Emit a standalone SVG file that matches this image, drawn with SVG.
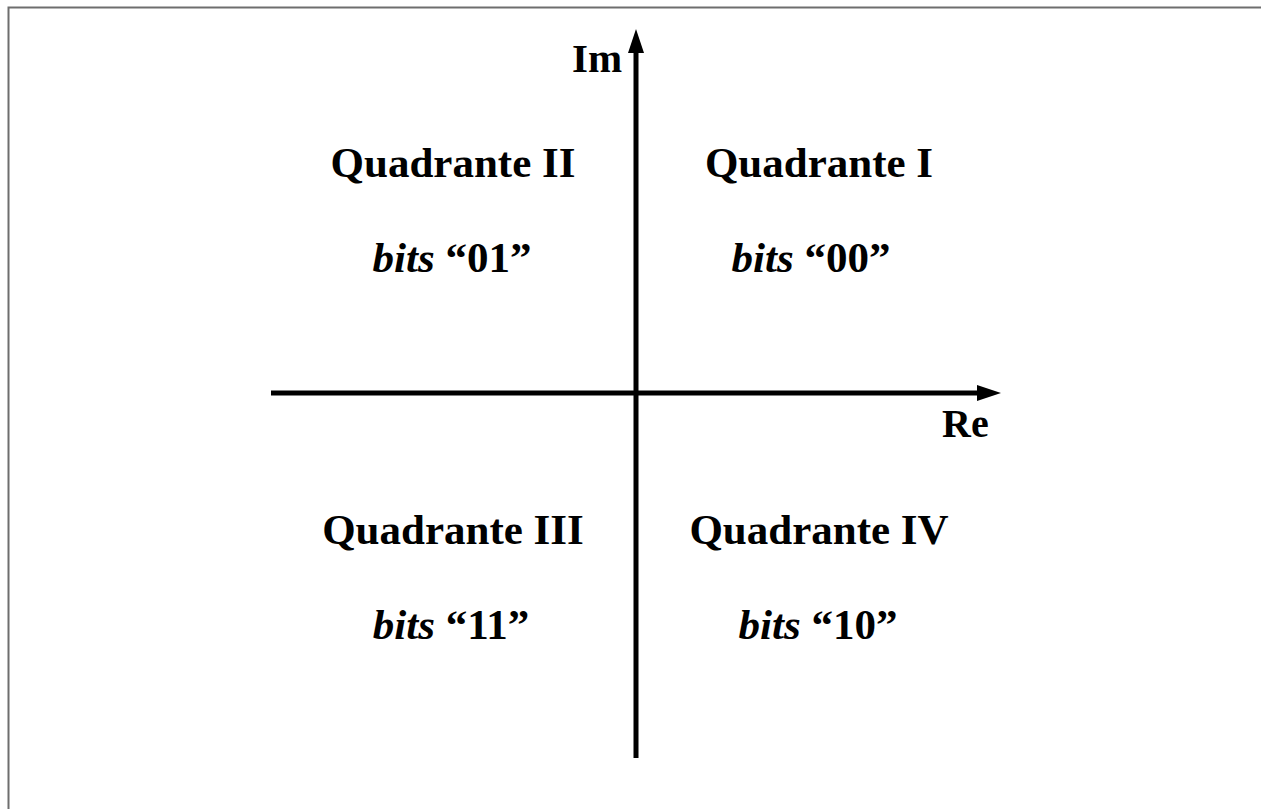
<svg xmlns="http://www.w3.org/2000/svg" width="1261" height="809" viewBox="0 0 1261 809">
<style>
.t{font-family:"Liberation Serif","Times New Roman",serif;font-weight:bold;fill:#000}
.q{font-size:43px;text-anchor:middle}
.ax{stroke:#000;stroke-width:5;fill:none}
</style>
<defs>
<marker id="ah" markerUnits="userSpaceOnUse" markerWidth="26" markerHeight="18" refX="0" refY="8" orient="auto" viewBox="0 0 26 16">
<polygon points="0,0 24,8 0,16" fill="#000"/>
</marker>
</defs>
<rect x="0" y="0" width="1261" height="809" fill="#fff"/>
<path d="M8.5,809 V7.5 H1261" stroke="#6e6e6e" stroke-width="2" fill="none"/>
<g id="connectors">
<line class="ax" x1="271" y1="393" x2="977" y2="393" marker-end="url(#ah)"/>
<line class="ax" x1="636" y1="758" x2="636" y2="53" marker-end="url(#ah)"/>
</g>
<g id="label-im"><text class="t" x="572" y="72" font-size="41">Im</text></g>
<g id="label-re"><text class="t" x="942" y="437" font-size="40">Re</text></g>
<g id="q2">
<text class="t q" x="453" y="177">Quadrante II</text>
<text class="t q" x="452" y="272"><tspan font-style="italic">bits</tspan> “01”</text>
</g>
<g id="q1">
<text class="t q" x="819" y="177">Quadrante I</text>
<text class="t q" x="811" y="272"><tspan font-style="italic">bits</tspan> “00”</text>
</g>
<g id="q3">
<text class="t q" x="453" y="544">Quadrante III</text>
<text class="t q" x="451" y="639"><tspan font-style="italic">bits</tspan> “11”</text>
</g>
<g id="q4">
<text class="t q" x="819" y="544">Quadrante IV</text>
<text class="t q" x="818" y="639"><tspan font-style="italic">bits</tspan> “10”</text>
</g>
</svg>
